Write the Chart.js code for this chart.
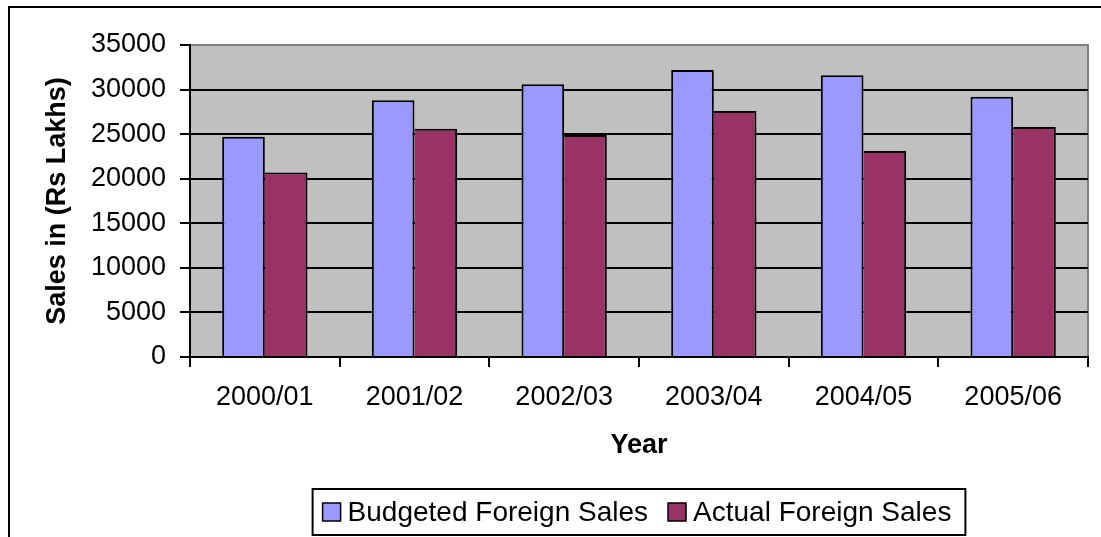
<!DOCTYPE html>
<html>
<head>
<meta charset="utf-8">
<script src="https://cdn.jsdelivr.net/npm/chart.js@4/dist/chart.umd.min.js"></script>
<style>
  html, body { margin: 0; padding: 0; background: #fff; }
  #wrap { width: 1101px; height: 537px; }
</style>
</head>
<body>
<div id="wrap"><canvas id="salesChart" width="1101" height="537"></canvas></div>
<script>
// foreign sales per financial year, Rs Lakhs
const years = ['2000/01', '2001/02', '2002/03', '2003/04', '2004/05', '2005/06'];
const budgetedSales = [24700, 28800, 30600, 32200, 31600, 29200];
const actualSales = [20700, 25600, 24900, 27600, 23100, 25800];
const seriesNames = ['Budgeted Foreign Sales', 'Actual Foreign Sales'];
const seriesColors = ['#9999FF', '#993366'];

const FONT = "'Liberation Sans', Arial, sans-serif";

// white page, grey plot area and the outer frame line
const backdrop = {
    id: 'backdrop',
    beforeDraw(chart) {
        const { ctx, chartArea: a } = chart;
        ctx.save();
        ctx.fillStyle = '#fff';
        ctx.fillRect(0, 0, chart.width, chart.height);
        ctx.fillStyle = '#C0C0C0';
        ctx.fillRect(a.left, a.top, a.right - a.left, a.bottom - a.top);
        ctx.strokeStyle = '#808080';
        ctx.lineWidth = 2;
        ctx.beginPath();
        ctx.moveTo(a.left, a.top);
        ctx.lineTo(a.right, a.top);
        ctx.lineTo(a.right, a.bottom);
        ctx.stroke();
        ctx.strokeStyle = '#000';
        ctx.beginPath();
        ctx.moveTo(9, chart.height);
        ctx.lineTo(9, 7);
        ctx.lineTo(chart.width, 7);
        ctx.stroke();
        ctx.restore();
    }
};

// boxed legend under the axis title
const boxLegend = {
    id: 'boxLegend',
    afterDraw(chart) {
        const { ctx, chartArea: a } = chart;
        const sw = 18, gap = 7, between = 20, padL = 10, padR = 14;
        ctx.save();
        ctx.font = '28px ' + FONT;
        const items = chart.data.datasets.map(ds => ({
            text: ds.label, color: ds.backgroundColor, w: ctx.measureText(ds.label).width
        }));
        let total = 0;
        items.forEach((it, i) => { total += sw + gap + it.w + (i ? between : 0); });
        const cx = (a.left + a.right) / 2, cy = 512;
        const boxW = total + padL + padR, boxH = 46;
        const boxX = cx - boxW / 2;
        ctx.strokeStyle = '#000';
        ctx.lineWidth = 2;
        ctx.strokeRect(boxX, cy - boxH / 2, boxW, boxH);
        let x = boxX + padL;
        ctx.textBaseline = 'middle';
        items.forEach((it, i) => {
            if (i) x += between;
            ctx.fillStyle = it.color;
            ctx.fillRect(x, cy - sw / 2, sw, sw);
            ctx.lineWidth = 1.5;
            ctx.strokeRect(x, cy - sw / 2, sw, sw);
            x += sw + gap;
            ctx.fillStyle = '#000';
            ctx.fillText(it.text, x, cy + 1);
            x += it.w;
        });
        ctx.restore();
    }
};

new Chart(document.getElementById('salesChart'), {
    type: 'bar',
    data: {
        labels: years,
        datasets: [
            {
                label: seriesNames[0],
                data: budgetedSales,
                backgroundColor: seriesColors[0],
                borderColor: '#000',
                borderWidth: { top: 2, left: 2, right: 2, bottom: 0 }
            },
            {
                label: seriesNames[1],
                data: actualSales,
                backgroundColor: seriesColors[1],
                borderColor: '#000',
                borderWidth: { top: 2, left: 0, right: 2, bottom: 0 }
            }
        ]
    },
    options: {
        responsive: false,
        animation: false,
        layout: { padding: { top: 45, right: 13, bottom: 0, left: 0 } },
        datasets: {
            bar: { categoryPercentage: 0.57, barPercentage: 1 }
        },
        plugins: {
            legend: { display: false },
            tooltip: { enabled: false }
        },
        scales: {
            x: {
                afterFit(scale) { scale.height = 180; },
                grid: {
                    offset: true,
                    drawOnChartArea: false,
                    color: '#000',
                    lineWidth: 2,
                    tickLength: 10
                },
                border: { color: '#000', width: 2 },
                ticks: {
                    color: '#000',
                    font: { family: FONT, size: 27 },
                    padding: 14,
                    maxRotation: 0,
                    autoSkip: false
                },
                title: {
                    display: true,
                    text: 'Year',
                    color: '#000',
                    font: { family: FONT, size: 27, weight: 'bold' },
                    padding: { top: 0, bottom: 75 }
                }
            },
            y: {
                min: 0,
                max: 35000,
                afterFit(scale) { scale.width = 190; },
                grid: {
                    color: ctx => (ctx.tick && ctx.tick.value === 35000 ? '#808080' : '#000'),
                    tickColor: '#000',
                    lineWidth: 2,
                    tickLength: 10
                },
                border: { color: '#000', width: 2 },
                ticks: {
                    stepSize: 5000,
                    color: '#000',
                    font: { family: FONT, size: 27 },
                    padding: 14,
                    callback: v => String(v)
                },
                title: {
                    display: true,
                    text: 'Sales in (Rs Lakhs)',
                    color: '#000',
                    font: { family: FONT, size: 27, weight: 'bold' },
                    padding: { top: 41, bottom: 0 }
                }
            }
        }
    },
    plugins: [backdrop, boxLegend]
});
</script>
</body>
</html>
